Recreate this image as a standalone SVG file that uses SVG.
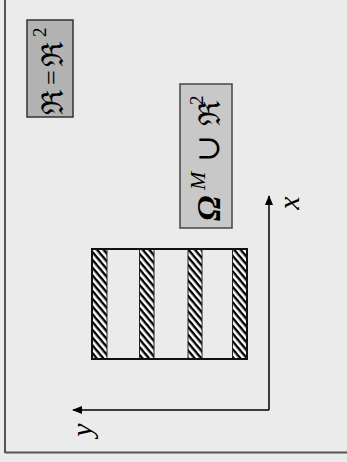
<svg xmlns="http://www.w3.org/2000/svg" width="347" height="462" viewBox="0 0 347 462">
  <style>
    .label { font-family: "DejaVu Serif", "Liberation Serif", serif; fill: #000; }
    .tnr { font-family: "Liberation Serif", "Times New Roman", serif; fill: #000; }
    .axis { stroke: #000; stroke-width: 1.5; fill: none; }
    .stripe { fill: url(#hatch); stroke: #222; stroke-width: 1; }
  </style>
  <defs>
    <pattern id="hatch" patternUnits="userSpaceOnUse" width="5" height="5" patternTransform="rotate(50)">
      <rect width="5" height="5" fill="#fff"/>
      <rect width="5" height="2.4" fill="#000"/>
    </pattern>
    <marker id="arrow" markerWidth="10" markerHeight="8" refX="9" refY="4" orient="auto" markerUnits="userSpaceOnUse">
      <path d="M0,0 L10,4 L0,8 Z" fill="#000"/>
    </marker>
  </defs>

  <!-- background and frame -->
  <rect x="0" y="0" width="347" height="462" fill="#ebebeb"/>
  <line x1="5" y1="0" x2="5" y2="453" stroke="#222" stroke-width="1.5"/>
  <line x1="5" y1="452.5" x2="347" y2="452.5" stroke="#555" stroke-width="2"/>

  <!-- space definition box -->
  <g id="space-box">
    <rect x="27" y="20" width="46" height="97" fill="#b3b3b3" stroke="#333" stroke-width="1.5"/>
    <g transform="translate(63,69) rotate(-90)">
      <text class="label" font-size="30" x="-46" y="0">ℜ</text>
      <text class="tnr" font-size="26" x="-16" y="-3">=</text>
      <text class="label" font-size="30" x="2" y="0">ℜ</text>
      <text class="tnr" font-size="19" x="32" y="-17">2</text>
    </g>
  </g>

  <!-- material domain box -->
  <g id="domain-box">
    <rect x="180" y="84" width="52" height="144" fill="#c8c8c8" stroke="#444" stroke-width="1.5"/>
    <g transform="translate(220,156) rotate(-90)">
      <text class="tnr" font-size="34" font-weight="bold" font-style="italic" x="-65" y="0">Ω</text>
      <text class="tnr" font-size="22" font-style="italic" x="-34" y="-15">M</text>
      <text class="label" font-size="32" x="-6" y="-1">∪</text>
      <text class="label" font-size="30" x="30" y="0">ℜ</text>
      <text class="tnr" font-size="19" x="51" y="-17">2</text>
    </g>
  </g>

  <!-- layered specimen with hatched strips -->
  <g id="specimen">
    <rect x="92" y="249" width="155" height="110" fill="#ebebeb" stroke="#111" stroke-width="2"/>
    <rect class="stripe" x="92.5" y="249.5" width="14.5" height="109"/>
    <rect class="stripe" x="139.5" y="249.5" width="14.5" height="109"/>
    <rect class="stripe" x="188" y="249.5" width="14" height="109"/>
    <rect class="stripe" x="232.5" y="249.5" width="14" height="109"/>
    <rect x="92" y="249" width="155" height="110" fill="none" stroke="#111" stroke-width="2"/>
  </g>

  <!-- coordinate axes -->
  <g id="connectors">
    <line class="axis" x1="269" y1="410" x2="269" y2="196" marker-end="url(#arrow)"/>
    <line class="axis" x1="269" y1="410" x2="73" y2="410" marker-end="url(#arrow)"/>
  </g>

  <g id="axis-x">
    <text class="tnr" font-size="30" font-style="italic" text-anchor="middle" transform="translate(299,203) rotate(-90)">x</text>
  </g>
  <g id="axis-y">
    <text class="tnr" font-size="30" font-style="italic" text-anchor="middle" transform="translate(92,430) rotate(-90)">y</text>
  </g>
</svg>
